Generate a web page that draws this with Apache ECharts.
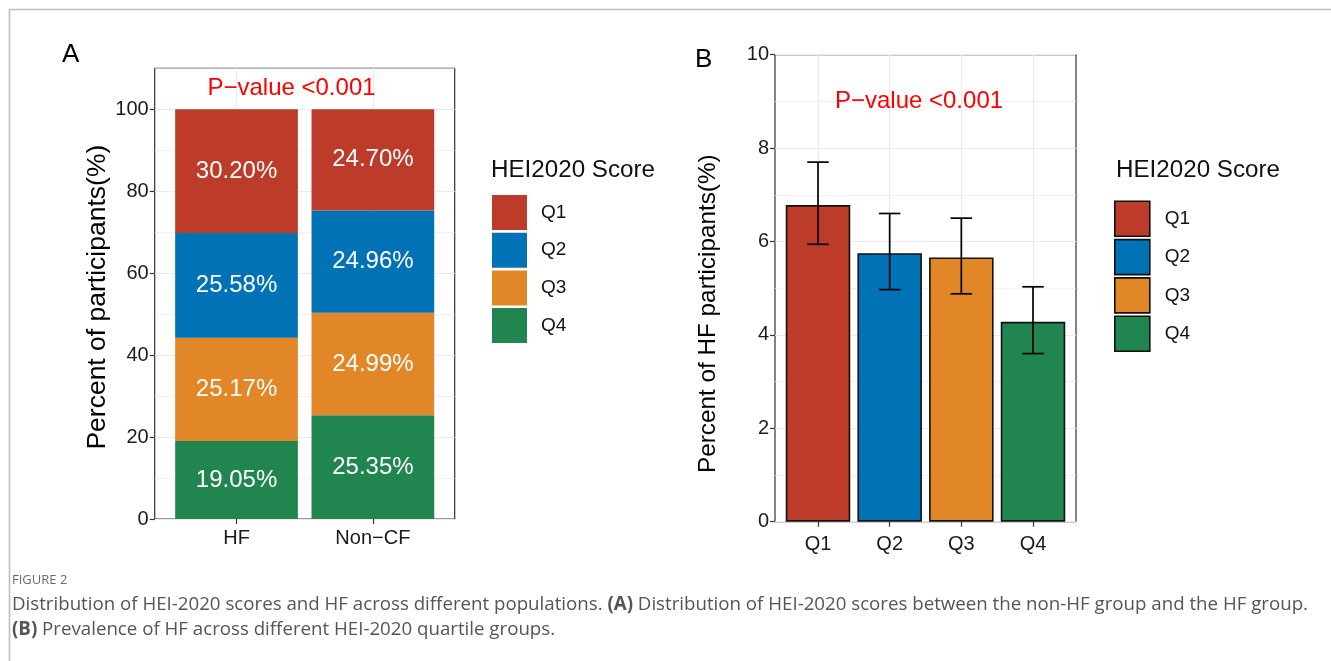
<!DOCTYPE html>
<html><head><meta charset="utf-8">
<script src="https://cdn.jsdelivr.net/npm/echarts@6/dist/echarts.min.js"></script>
<style>html,body{margin:0;padding:0;background:#fff}#c{width:1331px;height:661px}</style>
</head><body><div id="c"></div>
<script>
// ---- data ----
const groupsA = ['HF', 'Non\u2212CF'];
const quartiles = ['Q1', 'Q2', 'Q3', 'Q4'];
const shareQ1 = [30.20, 24.70];
const shareQ2 = [25.58, 24.96];
const shareQ3 = [25.17, 24.99];
const shareQ4 = [19.05, 25.35];
const prevalence = [6.78, 5.75, 5.66, 4.28];
const ciLow = [5.94, 4.97, 4.88, 3.60];
const ciHigh = [7.70, 6.60, 6.50, 5.03];
const ticksA = [0, 20, 40, 60, 80, 100];
const ticksB = [0, 2, 4, 6, 8, 10];
const pText = 'P\u2212value <0.001';
const legendTitle = 'HEI2020 Score';

const colors = { Q1: '#BC3C29', Q2: '#0072B5', Q3: '#E18727', Q4: '#20854E' };
const shares = { Q1: shareQ1, Q2: shareQ2, Q3: shareQ3, Q4: shareQ4 };
const FF = '"Liberation Sans", Arial, sans-serif';
const CAP = '"Open Sans", "Noto Sans", sans-serif';
const grid92 = '#EBEBEB';

const chart = echarts.init(document.getElementById('c'), null, { renderer: 'canvas' });

const posA = groupsA.map((g, i) => i + 1);
const posB = quartiles.map((q, i) => i + 1);

// value first, position second, so that the stacked dimension is the value
const seriesA = ['Q4', 'Q3', 'Q2', 'Q1'].map(q => ({
  name: q, type: 'bar', xAxisIndex: 0, yAxisIndex: 0, stack: 'A',
  barWidth: 122.7,
  data: posA.map((x, i) => [shares[q][i], x]),
  encode: { x: 1, y: 0 },
  itemStyle: { color: colors[q] },
  label: {
    show: true, position: 'inside', color: '#fff', fontSize: 24, fontFamily: FF,
    formatter: p => p.value[0].toFixed(2) + '%'
  },
  emphasis: { disabled: true }
}));

const seriesB = quartiles.map((q, i) => ({
  name: q, type: 'bar', xAxisIndex: 1, yAxisIndex: 2,
  barWidth: 64.5, barGap: '-100%',
  data: [[posB[i], prevalence[i]]],
  itemStyle: { color: colors[q], borderColor: '#111', borderWidth: 1.6 },
  emphasis: { disabled: true }
}));

const errB = {
  type: 'custom', xAxisIndex: 1, yAxisIndex: 2, z: 10,
  data: posB.map((x, i) => [x, ciLow[i], ciHigh[i]]),
  encode: { x: 0, y: [1, 2] },
  renderItem: (params, api) => {
    const x = api.value(0);
    const lo = api.coord([x, api.value(1)]);
    const hi = api.coord([x, api.value(2)]);
    const half = api.size([0.3, 0])[0] / 2;
    const st = { stroke: '#000', lineWidth: 1.7 };
    return { type: 'group', children: [
      { type: 'line', shape: { x1: lo[0], y1: lo[1], x2: hi[0], y2: hi[1] }, style: st },
      { type: 'line', shape: { x1: lo[0] - half, y1: lo[1], x2: lo[0] + half, y2: lo[1] }, style: st },
      { type: 'line', shape: { x1: hi[0] - half, y1: hi[1], x2: hi[0] + half, y2: hi[1] }, style: st }
    ]};
  }
};

const axisText = { color: '#1a1a1a', fontSize: 20, fontFamily: FF };
const tickStyle = { show: true, length: 5, lineStyle: { color: '#333', width: 1.2 } };

function txt(text, x, y, size, color, align, extra) {
  return {
    type: 'text', x: x, y: y, silent: true, z: 100,
    style: Object.assign({
      text: text, fontSize: size, fontFamily: FF, fill: color,
      align: align || 'left', verticalAlign: 'middle',
      textAlign: align || 'left', textVerticalAlign: 'middle'
    }, extra || {})
  };
}

const option = {
  backgroundColor: '#fff',
  animation: false,
  grid: [
    { left: 154.7, top: 68.3, width: 300, height: 450.7, show: true, borderColor: '#333', borderWidth: 1.2, backgroundColor: '#fff', containLabel: false, outerBoundsMode: 'none' },
    { left: 775, top: 54.7, width: 301, height: 467, show: true, borderColor: '#333', borderWidth: 1.2, backgroundColor: '#fff', containLabel: false, outerBoundsMode: 'none' }
  ],
  xAxis: [
    { type: 'value', gridIndex: 0, min: 0.4, max: 2.6,
      axisLine: { show: false }, axisTick: Object.assign({ customValues: posA }, tickStyle),
      axisLabel: Object.assign({ customValues: posA, margin: 9, formatter: v => groupsA[Math.round(v) - 1] || '' }, axisText),
      splitLine: { show: true, lineStyle: { color: grid92, width: 1.2 } } },
    { type: 'value', gridIndex: 1, min: 0.4, max: 4.6,
      axisLine: { show: false }, axisTick: Object.assign({ customValues: posB }, tickStyle),
      axisLabel: Object.assign({ customValues: posB, margin: 13, formatter: v => quartiles[Math.round(v) - 1] || '' }, axisText),
      splitLine: { show: true, lineStyle: { color: grid92, width: 1.2 } } }
  ],
  yAxis: [
    { type: 'value', gridIndex: 0, min: 0, max: 110, interval: 20, position: 'left',
      name: 'Percent of participants(%)', nameLocation: 'middle', nameRotate: 90, nameGap: 42,
      nameTextStyle: { color: '#000', fontSize: 26.5, fontFamily: FF, padding: [0, 7, 0, 0] },
      axisLine: { show: false }, axisTick: Object.assign({ customValues: ticksA }, tickStyle),
      axisLabel: Object.assign({ customValues: ticksA, margin: 6 }, axisText),
      splitLine: { show: true, lineStyle: { color: grid92, width: 1.2 } } },
    { type: 'value', gridIndex: 0, min: 0, max: 110, interval: 10, position: 'left', offset: 0,
      axisLine: { show: false }, axisTick: { show: false }, axisLabel: { show: false },
      splitLine: { show: true, lineStyle: { color: grid92, width: 0.7 } } },
    { type: 'value', gridIndex: 1, min: 0, max: 10, interval: 2, position: 'left',
      name: 'Percent of HF participants(%)', nameLocation: 'middle', nameRotate: 90, nameGap: 55,
      nameTextStyle: { color: '#000', fontSize: 24.3, fontFamily: FF, padding: [0, 51, 0, 0] },
      axisLine: { show: false }, axisTick: tickStyle,
      axisLabel: Object.assign({ margin: 6 }, axisText),
      splitLine: { show: true, lineStyle: { color: grid92, width: 1.2 } },
      minorTick: { show: false, splitNumber: 2 },
      minorSplitLine: { show: true, lineStyle: { color: grid92, width: 0.7 } } }
  ],
  legend: [
    { orient: 'vertical', left: 492, top: 195, padding: 0, itemWidth: 35, itemHeight: 35, itemGap: 2.7,
      icon: 'rect', selectedMode: false,
      data: quartiles.map(q => ({ name: q, itemStyle: { color: colors[q], borderWidth: 0 } })),
      textStyle: { color: '#111', fontSize: 19, fontFamily: FF, padding: [0, 0, 0, 9] } },
    { orient: 'vertical', left: 1114, top: 200.5, padding: 0, itemWidth: 35, itemHeight: 35, itemGap: 1.7,
      icon: 'rect', selectedMode: false,
      data: quartiles.map(q => ({ name: q, itemStyle: { color: colors[q], borderColor: '#111', borderWidth: 1.6 } })),
      textStyle: { color: '#111', fontSize: 19, fontFamily: FF, padding: [0, 0, 0, 10] } }
  ],
  graphic: [
    { type: 'line', shape: { x1: 9, y1: 9.5, x2: 1331, y2: 9.5 }, style: { stroke: '#BDBDBD', lineWidth: 1.6 }, silent: true },
    { type: 'line', shape: { x1: 9.5, y1: 9, x2: 9.5, y2: 661 }, style: { stroke: '#BDBDBD', lineWidth: 1.6 }, silent: true },
    txt('A', 62, 55, 26, '#000', 'left'),
    txt('B', 695, 60, 26, '#000', 'left'),
    txt(pText, 291.5, 88, 24, '#FF0000', 'center'),
    txt(pText, 919, 101, 24, '#FF0000', 'center'),
    txt(legendTitle, 491, 170, 24.2, '#111', 'left'),
    txt(legendTitle, 1116, 170, 24.2, '#111', 'left'),
    txt('FIGURE 2', 12, 580, 13, '#6b6b6b', 'left', { fontFamily: CAP }),
    txt('Distribution of HEI-2020 scores and HF across different populations. {b|(A)} Distribution of HEI-2020 scores between the non-HF group and the HF group.',
      12, 605, 18.7, '#555', 'left', { fontFamily: CAP, rich: { b: { fontFamily: CAP, fontSize: 18.7, fontWeight: 'bold', fill: '#555', color: '#555' } } }),
    txt('{b|(B)} Prevalence of HF across different HEI-2020 quartile groups.',
      12, 630, 18.7, '#555', 'left', { fontFamily: CAP, rich: { b: { fontFamily: CAP, fontSize: 18.7, fontWeight: 'bold', fill: '#555', color: '#555' } } })
  ],
  series: seriesA.concat(seriesB, [errB])
};

chart.setOption(option);
</script>
</body></html>
